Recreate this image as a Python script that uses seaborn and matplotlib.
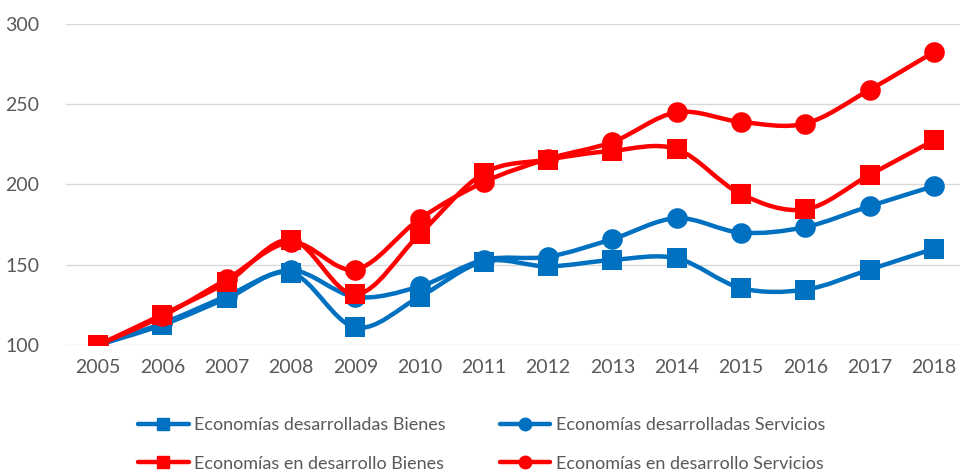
import matplotlib
matplotlib.use("Agg")
import matplotlib.pyplot as plt
from matplotlib.path import Path
from matplotlib.patches import PathPatch
from matplotlib.lines import Line2D
import seaborn as sns

# Data (index 2005 = 100)
years = [2005, 2006, 2007, 2008, 2009, 2010, 2011, 2012, 2013, 2014, 2015, 2016, 2017, 2018]
desarrolladas_bienes = [100, 112.5, 129, 145, 111, 130, 152, 149, 153, 154, 135.5, 134.5, 147, 160]
desarrolladas_servicios = [100, 113.5, 130.5, 146.5, 130, 136.5, 153, 155, 166, 179, 170, 173.5, 186.5, 199]
desarrollo_bienes = [100, 119, 139, 165.5, 131.5, 169, 207, 215.5, 221, 222, 194, 184.5, 206, 227.5]
desarrollo_servicios = [100, 118, 141, 164, 147, 178.5, 201.5, 216, 226.5, 245, 239, 238, 259, 282.5]

labels = ["Economías desarrolladas Bienes", "Economías desarrolladas Servicios",
          "Economías en desarrollo Bienes", "Economías en desarrollo Servicios"]
series = [desarrolladas_bienes, desarrolladas_servicios, desarrollo_bienes, desarrollo_servicios]
colors = ["#0070C0", "#0070C0", "#FF0000", "#FF0000"]
markers = ["s", "o", "s", "o"]

sns.set_theme(style="white")
plt.rcParams["font.family"] = ["Lato", "DejaVu Sans"]


# Excel style smooth line: cubic bezier segments through the data points
def smooth_path(xs, ys):
    pts = list(zip(xs, ys))
    verts = [pts[0]]
    codes = [Path.MOVETO]
    n = len(pts)
    for i in range(n - 1):
        p0 = pts[i - 1] if i > 0 else pts[i]
        p1 = pts[i]
        p2 = pts[i + 1]
        p3 = pts[i + 2] if i + 2 < n else pts[i + 1]
        c1 = (p1[0] + (p2[0] - p0[0]) / 6, p1[1] + (p2[1] - p0[1]) / 6)
        c2 = (p2[0] - (p3[0] - p1[0]) / 6, p2[1] - (p3[1] - p1[1]) / 6)
        verts += [c1, c2, p2]
        codes += [Path.CURVE4] * 3
    return Path(verts, codes)


fig = plt.figure(figsize=(9.6, 4.73), dpi=100)
ax = fig.add_axes([66 / 960, 128 / 473, 900 / 960, 321 / 473])

for k, (vals, c, m) in enumerate(zip(series, colors, markers)):
    ax.add_patch(PathPatch(smooth_path(years, vals), fill=False, edgecolor=c,
                           linewidth=3.2, capstyle="round", zorder=3 + 2 * k))
    sns.scatterplot(x=years, y=vals, marker=m, color=c, s=190 if m == "s" else 220,
                    linewidth=0, ax=ax, zorder=4 + 2 * k, legend=False)

ax.set_xlim(2004.5, 2018.5)
ax.set_ylim(100, 300)
ax.set_yticks([100, 150, 200, 250, 300])
ax.set_xticks(years)
ax.set_xticklabels([str(y) for y in years])
ax.grid(axis="y", color="#d9d9d9", linewidth=1)
ax.grid(axis="x", visible=False)
for s in ax.spines.values():
    s.set_visible(False)
ax.tick_params(axis="both", colors="#595959", labelsize=14, length=0)
ax.tick_params(axis="x", pad=10)
ax.tick_params(axis="y", pad=19)
ax.set_xlabel("")
ax.set_ylabel("")

handles = [Line2D([], [], color=c, marker=m, linewidth=3.2, markersize=9)
           for c, m in zip(colors, markers)]
order = [0, 2, 1, 3]
fig.legend([handles[i] for i in order], [labels[i] for i in order],
           loc="upper left", bbox_to_anchor=(138 / 960, 1 - 417 / 473), ncol=2, frameon=False,
           fontsize=13, labelcolor="#595959", handlelength=2.8, handletextpad=0.3,
           columnspacing=3.0, labelspacing=1.25, borderpad=0, borderaxespad=0)

fig.savefig("out.png", dpi=100)
